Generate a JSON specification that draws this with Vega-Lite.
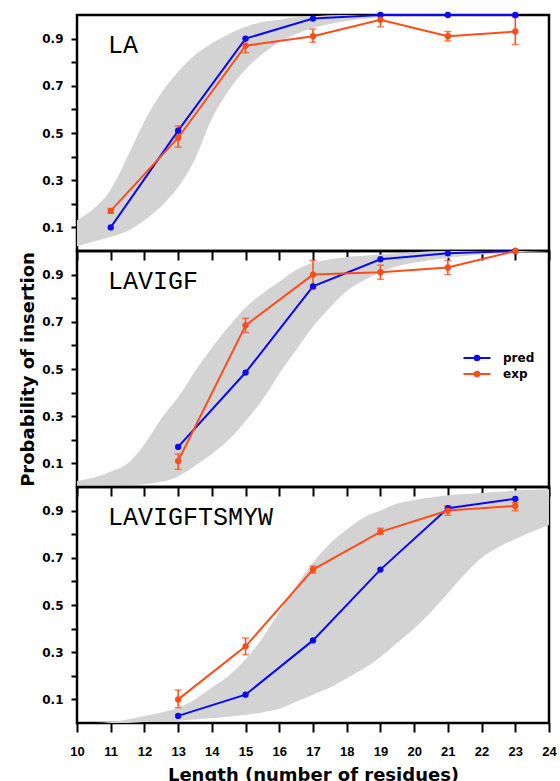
{
  "$schema": "https://vega.github.io/schema/vega-lite/v6.json",
  "padding": {"left": 18, "top": 9, "right": 10, "bottom": 0},
  "background": "white",
  "spacing": 0,
  "bounds": "flush",
  "resolve": {"legend": {"color": "independent"}},
  "config": {
    "view": {"stroke": "black", "strokeWidth": 2.5},
    "axis": {"grid": false, "domain": false, "ticks": true, "tickColor": "#000000", "labelColor": "black", "titleColor": "black", "labelFlush": false, "labelOverlap": false},
    "axisX": {"tickSize": 9, "tickWidth": 2, "labelFont": "Liberation Sans", "labelFontWeight": "bold", "labelFontSize": 13, "labelPadding": 13, "titleFont": "DejaVu Sans", "titleFontWeight": "bold", "titleFontSize": 18, "titlePadding": 8},
    "axisY": {"tickSize": 6, "tickWidth": 2, "labelFont": "DejaVu Sans", "labelFontWeight": "bold", "labelFontSize": 12, "labelPadding": 8, "titleFont": "DejaVu Sans", "titleFontWeight": "bold", "titleFontSize": 18, "titlePadding": 4}
  },
  "datasets": {
    "pts": [
      {"panel": "LA", "series": "pred", "x": 11, "y": 0.10},
      {"panel": "LA", "series": "pred", "x": 13, "y": 0.51},
      {"panel": "LA", "series": "pred", "x": 15, "y": 0.90},
      {"panel": "LA", "series": "pred", "x": 17, "y": 0.985},
      {"panel": "LA", "series": "pred", "x": 19, "y": 1.0},
      {"panel": "LA", "series": "pred", "x": 21, "y": 1.0},
      {"panel": "LA", "series": "pred", "x": 23, "y": 1.0},
      {"panel": "LA", "series": "exp", "x": 11, "y": 0.17, "lo": 0.16, "hi": 0.18},
      {"panel": "LA", "series": "exp", "x": 13, "y": 0.48, "lo": 0.44, "hi": 0.53},
      {"panel": "LA", "series": "exp", "x": 15, "y": 0.87, "lo": 0.84, "hi": 0.90},
      {"panel": "LA", "series": "exp", "x": 17, "y": 0.91, "lo": 0.885, "hi": 0.94},
      {"panel": "LA", "series": "exp", "x": 19, "y": 0.98, "lo": 0.95, "hi": 1.005},
      {"panel": "LA", "series": "exp", "x": 21, "y": 0.91, "lo": 0.89, "hi": 0.93},
      {"panel": "LA", "series": "exp", "x": 23, "y": 0.93, "lo": 0.875, "hi": 0.99},
      {"panel": "LAVIGF", "series": "pred", "x": 13, "y": 0.17},
      {"panel": "LAVIGF", "series": "pred", "x": 15, "y": 0.485},
      {"panel": "LAVIGF", "series": "pred", "x": 17, "y": 0.85},
      {"panel": "LAVIGF", "series": "pred", "x": 19, "y": 0.965},
      {"panel": "LAVIGF", "series": "pred", "x": 21, "y": 0.99},
      {"panel": "LAVIGF", "series": "pred", "x": 23, "y": 1.0},
      {"panel": "LAVIGF", "series": "exp", "x": 13, "y": 0.11, "lo": 0.075, "hi": 0.14},
      {"panel": "LAVIGF", "series": "exp", "x": 15, "y": 0.685, "lo": 0.655, "hi": 0.715},
      {"panel": "LAVIGF", "series": "exp", "x": 17, "y": 0.90, "lo": 0.84, "hi": 0.96},
      {"panel": "LAVIGF", "series": "exp", "x": 19, "y": 0.91, "lo": 0.88, "hi": 0.94},
      {"panel": "LAVIGF", "series": "exp", "x": 21, "y": 0.93, "lo": 0.90, "hi": 0.96},
      {"panel": "LAVIGF", "series": "exp", "x": 23, "y": 1.0},
      {"panel": "LAVIGFTSMYW", "series": "pred", "x": 13, "y": 0.03},
      {"panel": "LAVIGFTSMYW", "series": "pred", "x": 15, "y": 0.12},
      {"panel": "LAVIGFTSMYW", "series": "pred", "x": 17, "y": 0.35},
      {"panel": "LAVIGFTSMYW", "series": "pred", "x": 19, "y": 0.65},
      {"panel": "LAVIGFTSMYW", "series": "pred", "x": 21, "y": 0.91},
      {"panel": "LAVIGFTSMYW", "series": "pred", "x": 23, "y": 0.95},
      {"panel": "LAVIGFTSMYW", "series": "exp", "x": 13, "y": 0.10, "lo": 0.065, "hi": 0.14},
      {"panel": "LAVIGFTSMYW", "series": "exp", "x": 15, "y": 0.325, "lo": 0.29, "hi": 0.36},
      {"panel": "LAVIGFTSMYW", "series": "exp", "x": 17, "y": 0.65, "lo": 0.635, "hi": 0.665},
      {"panel": "LAVIGFTSMYW", "series": "exp", "x": 19, "y": 0.81, "lo": 0.80, "hi": 0.825},
      {"panel": "LAVIGFTSMYW", "series": "exp", "x": 21, "y": 0.90, "lo": 0.88, "hi": 0.92},
      {"panel": "LAVIGFTSMYW", "series": "exp", "x": 23, "y": 0.92, "lo": 0.90, "hi": 0.935}
    ],
    "band": [
      {"panel": "LA", "x": 10, "y": 0.13, "ylo": 0.02},
      {"panel": "LA", "x": 10.5, "y": 0.18, "ylo": 0.04},
      {"panel": "LA", "x": 11, "y": 0.26, "ylo": 0.06},
      {"panel": "LA", "x": 11.5, "y": 0.40, "ylo": 0.085},
      {"panel": "LA", "x": 12, "y": 0.55, "ylo": 0.13},
      {"panel": "LA", "x": 12.5, "y": 0.67, "ylo": 0.19},
      {"panel": "LA", "x": 13, "y": 0.76, "ylo": 0.27},
      {"panel": "LA", "x": 13.5, "y": 0.83, "ylo": 0.39},
      {"panel": "LA", "x": 14, "y": 0.88, "ylo": 0.56},
      {"panel": "LA", "x": 14.5, "y": 0.92, "ylo": 0.68},
      {"panel": "LA", "x": 15, "y": 0.95, "ylo": 0.77},
      {"panel": "LA", "x": 15.5, "y": 0.97, "ylo": 0.835},
      {"panel": "LA", "x": 16, "y": 0.98, "ylo": 0.885},
      {"panel": "LA", "x": 16.5, "y": 0.99, "ylo": 0.92},
      {"panel": "LA", "x": 17, "y": 0.995, "ylo": 0.945},
      {"panel": "LA", "x": 18, "y": 1.0, "ylo": 0.975},
      {"panel": "LA", "x": 19, "y": 1.0, "ylo": 0.99},
      {"panel": "LA", "x": 20, "y": 1.0, "ylo": 1.0},
      {"panel": "LAVIGF", "x": 10, "y": 0.025, "ylo": 0.0},
      {"panel": "LAVIGF", "x": 10.5, "y": 0.04, "ylo": 0.002},
      {"panel": "LAVIGF", "x": 11, "y": 0.065, "ylo": 0.005},
      {"panel": "LAVIGF", "x": 11.5, "y": 0.10, "ylo": 0.008},
      {"panel": "LAVIGF", "x": 12, "y": 0.18, "ylo": 0.012},
      {"panel": "LAVIGF", "x": 12.5, "y": 0.29, "ylo": 0.022},
      {"panel": "LAVIGF", "x": 13, "y": 0.38, "ylo": 0.045},
      {"panel": "LAVIGF", "x": 13.5, "y": 0.49, "ylo": 0.09},
      {"panel": "LAVIGF", "x": 14, "y": 0.59, "ylo": 0.14},
      {"panel": "LAVIGF", "x": 14.5, "y": 0.68, "ylo": 0.20},
      {"panel": "LAVIGF", "x": 15, "y": 0.76, "ylo": 0.28},
      {"panel": "LAVIGF", "x": 15.5, "y": 0.82, "ylo": 0.37},
      {"panel": "LAVIGF", "x": 16, "y": 0.87, "ylo": 0.48},
      {"panel": "LAVIGF", "x": 16.5, "y": 0.92, "ylo": 0.58},
      {"panel": "LAVIGF", "x": 17, "y": 0.95, "ylo": 0.68},
      {"panel": "LAVIGF", "x": 17.5, "y": 0.965, "ylo": 0.76},
      {"panel": "LAVIGF", "x": 18, "y": 0.975, "ylo": 0.83},
      {"panel": "LAVIGF", "x": 18.5, "y": 0.98, "ylo": 0.875},
      {"panel": "LAVIGF", "x": 19, "y": 0.985, "ylo": 0.91},
      {"panel": "LAVIGF", "x": 19.5, "y": 0.99, "ylo": 0.935},
      {"panel": "LAVIGF", "x": 20, "y": 0.995, "ylo": 0.95},
      {"panel": "LAVIGF", "x": 21, "y": 1.0, "ylo": 0.97},
      {"panel": "LAVIGF", "x": 22, "y": 1.0, "ylo": 0.985},
      {"panel": "LAVIGF", "x": 23, "y": 1.0, "ylo": 0.995},
      {"panel": "LAVIGF", "x": 24, "y": 1.0, "ylo": 1.0},
      {"panel": "LAVIGFTSMYW", "x": 10.5, "y": 0.0, "ylo": 0.0},
      {"panel": "LAVIGFTSMYW", "x": 11, "y": 0.004, "ylo": 0.0},
      {"panel": "LAVIGFTSMYW", "x": 11.5, "y": 0.015, "ylo": 0.0},
      {"panel": "LAVIGFTSMYW", "x": 12, "y": 0.03, "ylo": 0.004},
      {"panel": "LAVIGFTSMYW", "x": 12.5, "y": 0.045, "ylo": 0.007},
      {"panel": "LAVIGFTSMYW", "x": 13, "y": 0.065, "ylo": 0.01},
      {"panel": "LAVIGFTSMYW", "x": 13.5, "y": 0.10, "ylo": 0.015},
      {"panel": "LAVIGFTSMYW", "x": 14, "y": 0.15, "ylo": 0.02},
      {"panel": "LAVIGFTSMYW", "x": 14.5, "y": 0.20, "ylo": 0.027},
      {"panel": "LAVIGFTSMYW", "x": 15, "y": 0.27, "ylo": 0.035},
      {"panel": "LAVIGFTSMYW", "x": 15.5, "y": 0.36, "ylo": 0.045},
      {"panel": "LAVIGFTSMYW", "x": 16, "y": 0.47, "ylo": 0.06},
      {"panel": "LAVIGFTSMYW", "x": 16.5, "y": 0.58, "ylo": 0.09},
      {"panel": "LAVIGFTSMYW", "x": 17, "y": 0.68, "ylo": 0.12},
      {"panel": "LAVIGFTSMYW", "x": 17.5, "y": 0.76, "ylo": 0.15},
      {"panel": "LAVIGFTSMYW", "x": 18, "y": 0.82, "ylo": 0.19},
      {"panel": "LAVIGFTSMYW", "x": 18.5, "y": 0.87, "ylo": 0.23},
      {"panel": "LAVIGFTSMYW", "x": 19, "y": 0.90, "ylo": 0.28},
      {"panel": "LAVIGFTSMYW", "x": 19.5, "y": 0.93, "ylo": 0.34},
      {"panel": "LAVIGFTSMYW", "x": 20, "y": 0.945, "ylo": 0.40},
      {"panel": "LAVIGFTSMYW", "x": 20.5, "y": 0.955, "ylo": 0.47},
      {"panel": "LAVIGFTSMYW", "x": 21, "y": 0.965, "ylo": 0.55},
      {"panel": "LAVIGFTSMYW", "x": 21.5, "y": 0.97, "ylo": 0.63},
      {"panel": "LAVIGFTSMYW", "x": 22, "y": 0.975, "ylo": 0.70},
      {"panel": "LAVIGFTSMYW", "x": 22.5, "y": 0.98, "ylo": 0.745},
      {"panel": "LAVIGFTSMYW", "x": 23, "y": 0.985, "ylo": 0.78},
      {"panel": "LAVIGFTSMYW", "x": 23.5, "y": 0.988, "ylo": 0.81},
      {"panel": "LAVIGFTSMYW", "x": 24, "y": 0.99, "ylo": 0.84}
    ],
    "labels": [
      {"panel": "LA", "x": 10.92, "y": 0.837},
      {"panel": "LAVIGF", "x": 10.92, "y": 0.837},
      {"panel": "LAVIGFTSMYW", "x": 10.92, "y": 0.837}
    ]
  },
  "vconcat": [
    {
      "width": 472, "height": 236,
      "encoding": {
        "x": {"field": "x", "type": "quantitative", "scale": {"domain": [10, 24], "nice": false},
              "axis": {"labels": true, "labelOpacity": 0, "title": null, "tickColor": "#000000", "tickWidth": 2, "tickSize": 9, "values": [10,11,12,13,14,15,16,17,18,19,20,21,22,23,24]}},
        "y": {"field": "y", "type": "quantitative", "scale": {"domain": [0, 1], "nice": false},
              "axis": {"title": null, "values": [0.1,0.2,0.3,0.4,0.5,0.6,0.7,0.8,0.9], "format": ".1f", "labelExpr": "(round(datum.value*10) % 2 == 1) ? datum.label : ''"}}
      },
      "layer": [
        {"data": {"name": "band"}, "transform": [{"filter": "datum.panel === 'LA'"}], "mark": {"type": "area", "interpolate": "monotone", "color": "#d3d3d3", "clip": true},
         "encoding": {"y2": {"field": "ylo"}}},
        {"data": {"name": "pts"}, "transform": [{"filter": "datum.panel === 'LA'"}], "mark": {"type": "line", "strokeWidth": 2},
         "encoding": {"color": {"field": "series", "type": "nominal", "scale": {"domain": ["pred", "exp"], "range": ["#0a0af0", "#ff4d1a"]}, "legend": null}}},
        {"data": {"name": "pts"}, "transform": [{"filter": "datum.panel === 'LA' && isValid(datum.lo)"}, {"fold": ["lo", "hi"], "as": ["k", "y"]}], "mark": {"type": "line", "strokeWidth": 1.5, "color": "#ff4d1a"},
         "encoding": {"detail": {"field": "x", "type": "nominal"}}},
        {"data": {"name": "pts"}, "transform": [{"filter": "datum.panel === 'LA' && isValid(datum.lo)"}, {"fold": ["lo", "hi"], "as": ["k", "y"]}], "mark": {"type": "tick", "orient": "horizontal", "size": 7, "thickness": 1.5, "color": "#ff4d1a"}},
        {"data": {"name": "pts"}, "transform": [{"filter": "datum.panel === 'LA'"}], "mark": {"type": "point", "filled": true, "size": 40, "opacity": 1},
         "encoding": {"color": {"field": "series", "type": "nominal", "legend": null}}},
        {"data": {"name": "labels"}, "transform": [{"filter": "datum.panel === 'LA'"}], "mark": {"type": "text", "font": "Liberation Mono", "fontSize": 25, "align": "left", "baseline": "alphabetic", "color": "black"},
         "encoding": {"text": {"field": "panel"}}}
      ]
    },
    {
      "width": 472, "height": 236,
      "encoding": {
        "x": {"field": "x", "type": "quantitative", "scale": {"domain": [10, 24], "nice": false},
              "axis": {"labels": true, "labelOpacity": 0, "title": null, "tickColor": "#000000", "tickWidth": 2, "tickSize": 9, "values": [10,11,12,13,14,15,16,17,18,19,20,21,22,23,24]}},
        "y": {"field": "y", "type": "quantitative", "scale": {"domain": [0, 1], "nice": false},
              "axis": {"title": "Probability of insertion", "values": [0.1,0.2,0.3,0.4,0.5,0.6,0.7,0.8,0.9], "format": ".1f", "labelExpr": "(round(datum.value*10) % 2 == 1) ? datum.label : ''"}}
      },
      "layer": [
        {"data": {"name": "band"}, "transform": [{"filter": "datum.panel === 'LAVIGF'"}], "mark": {"type": "area", "interpolate": "monotone", "color": "#d3d3d3", "clip": true},
         "encoding": {"y2": {"field": "ylo"}}},
        {"data": {"name": "pts"}, "transform": [{"filter": "datum.panel === 'LAVIGF'"}], "mark": {"type": "line", "strokeWidth": 2},
         "encoding": {"color": {"field": "series", "type": "nominal", "scale": {"domain": ["pred", "exp"], "range": ["#0a0af0", "#ff4d1a"]},
                                "legend": {"title": null, "orient": "none", "legendX": 392, "legendY": 99, "symbolType": "M-2,0H2M0.34,0A0.34,0.34,0,1,1,-0.34,0A0.34,0.34,0,1,1,0.34,0Z", "symbolSize": 182, "symbolStrokeWidth": 2, "labelFont": "DejaVu Sans", "labelFontWeight": "bold", "labelFontSize": 12, "labelColor": "black", "labelOffset": 18, "rowPadding": 1,
                                           "encode": {"symbols": {"update": {"fill": {"scale": "color", "field": "value"}, "stroke": {"scale": "color", "field": "value"}}}}}}}},
        {"data": {"name": "pts"}, "transform": [{"filter": "datum.panel === 'LAVIGF' && isValid(datum.lo)"}, {"fold": ["lo", "hi"], "as": ["k", "y"]}], "mark": {"type": "line", "strokeWidth": 1.5, "color": "#ff4d1a"},
         "encoding": {"detail": {"field": "x", "type": "nominal"}}},
        {"data": {"name": "pts"}, "transform": [{"filter": "datum.panel === 'LAVIGF' && isValid(datum.lo)"}, {"fold": ["lo", "hi"], "as": ["k", "y"]}], "mark": {"type": "tick", "orient": "horizontal", "size": 7, "thickness": 1.5, "color": "#ff4d1a"}},
        {"data": {"name": "pts"}, "transform": [{"filter": "datum.panel === 'LAVIGF'"}], "mark": {"type": "point", "filled": true, "size": 40, "opacity": 1},
         "encoding": {"color": {"field": "series", "type": "nominal"}}},
        {"data": {"name": "labels"}, "transform": [{"filter": "datum.panel === 'LAVIGF'"}], "mark": {"type": "text", "font": "Liberation Mono", "fontSize": 25, "align": "left", "baseline": "alphabetic", "color": "black"},
         "encoding": {"text": {"field": "panel"}}}
      ]
    },
    {
      "width": 472, "height": 236,
      "encoding": {
        "x": {"field": "x", "type": "quantitative", "scale": {"domain": [10, 24], "nice": false},
              "axis": {"title": "Length (number of residues)", "tickColor": "#000000", "tickWidth": 2, "tickSize": 9, "values": [10,11,12,13,14,15,16,17,18,19,20,21,22,23,24]}},
        "y": {"field": "y", "type": "quantitative", "scale": {"domain": [0, 1], "nice": false},
              "axis": {"title": null, "values": [0.1,0.2,0.3,0.4,0.5,0.6,0.7,0.8,0.9], "format": ".1f", "labelExpr": "(round(datum.value*10) % 2 == 1) ? datum.label : ''"}}
      },
      "layer": [
        {"data": {"name": "band"}, "transform": [{"filter": "datum.panel === 'LAVIGFTSMYW'"}], "mark": {"type": "area", "interpolate": "monotone", "color": "#d3d3d3", "clip": true},
         "encoding": {"y2": {"field": "ylo"}}},
        {"data": {"name": "pts"}, "transform": [{"filter": "datum.panel === 'LAVIGFTSMYW'"}], "mark": {"type": "line", "strokeWidth": 2},
         "encoding": {"color": {"field": "series", "type": "nominal", "scale": {"domain": ["pred", "exp"], "range": ["#0a0af0", "#ff4d1a"]}, "legend": null}}},
        {"data": {"name": "pts"}, "transform": [{"filter": "datum.panel === 'LAVIGFTSMYW' && isValid(datum.lo)"}, {"fold": ["lo", "hi"], "as": ["k", "y"]}], "mark": {"type": "line", "strokeWidth": 1.5, "color": "#ff4d1a"},
         "encoding": {"detail": {"field": "x", "type": "nominal"}}},
        {"data": {"name": "pts"}, "transform": [{"filter": "datum.panel === 'LAVIGFTSMYW' && isValid(datum.lo)"}, {"fold": ["lo", "hi"], "as": ["k", "y"]}], "mark": {"type": "tick", "orient": "horizontal", "size": 7, "thickness": 1.5, "color": "#ff4d1a"}},
        {"data": {"name": "pts"}, "transform": [{"filter": "datum.panel === 'LAVIGFTSMYW'"}], "mark": {"type": "point", "filled": true, "size": 40, "opacity": 1},
         "encoding": {"color": {"field": "series", "type": "nominal", "legend": null}}},
        {"data": {"name": "labels"}, "transform": [{"filter": "datum.panel === 'LAVIGFTSMYW'"}], "mark": {"type": "text", "font": "Liberation Mono", "fontSize": 25, "align": "left", "baseline": "alphabetic", "color": "black"},
         "encoding": {"text": {"field": "panel"}}}
      ]
    }
  ]
}
